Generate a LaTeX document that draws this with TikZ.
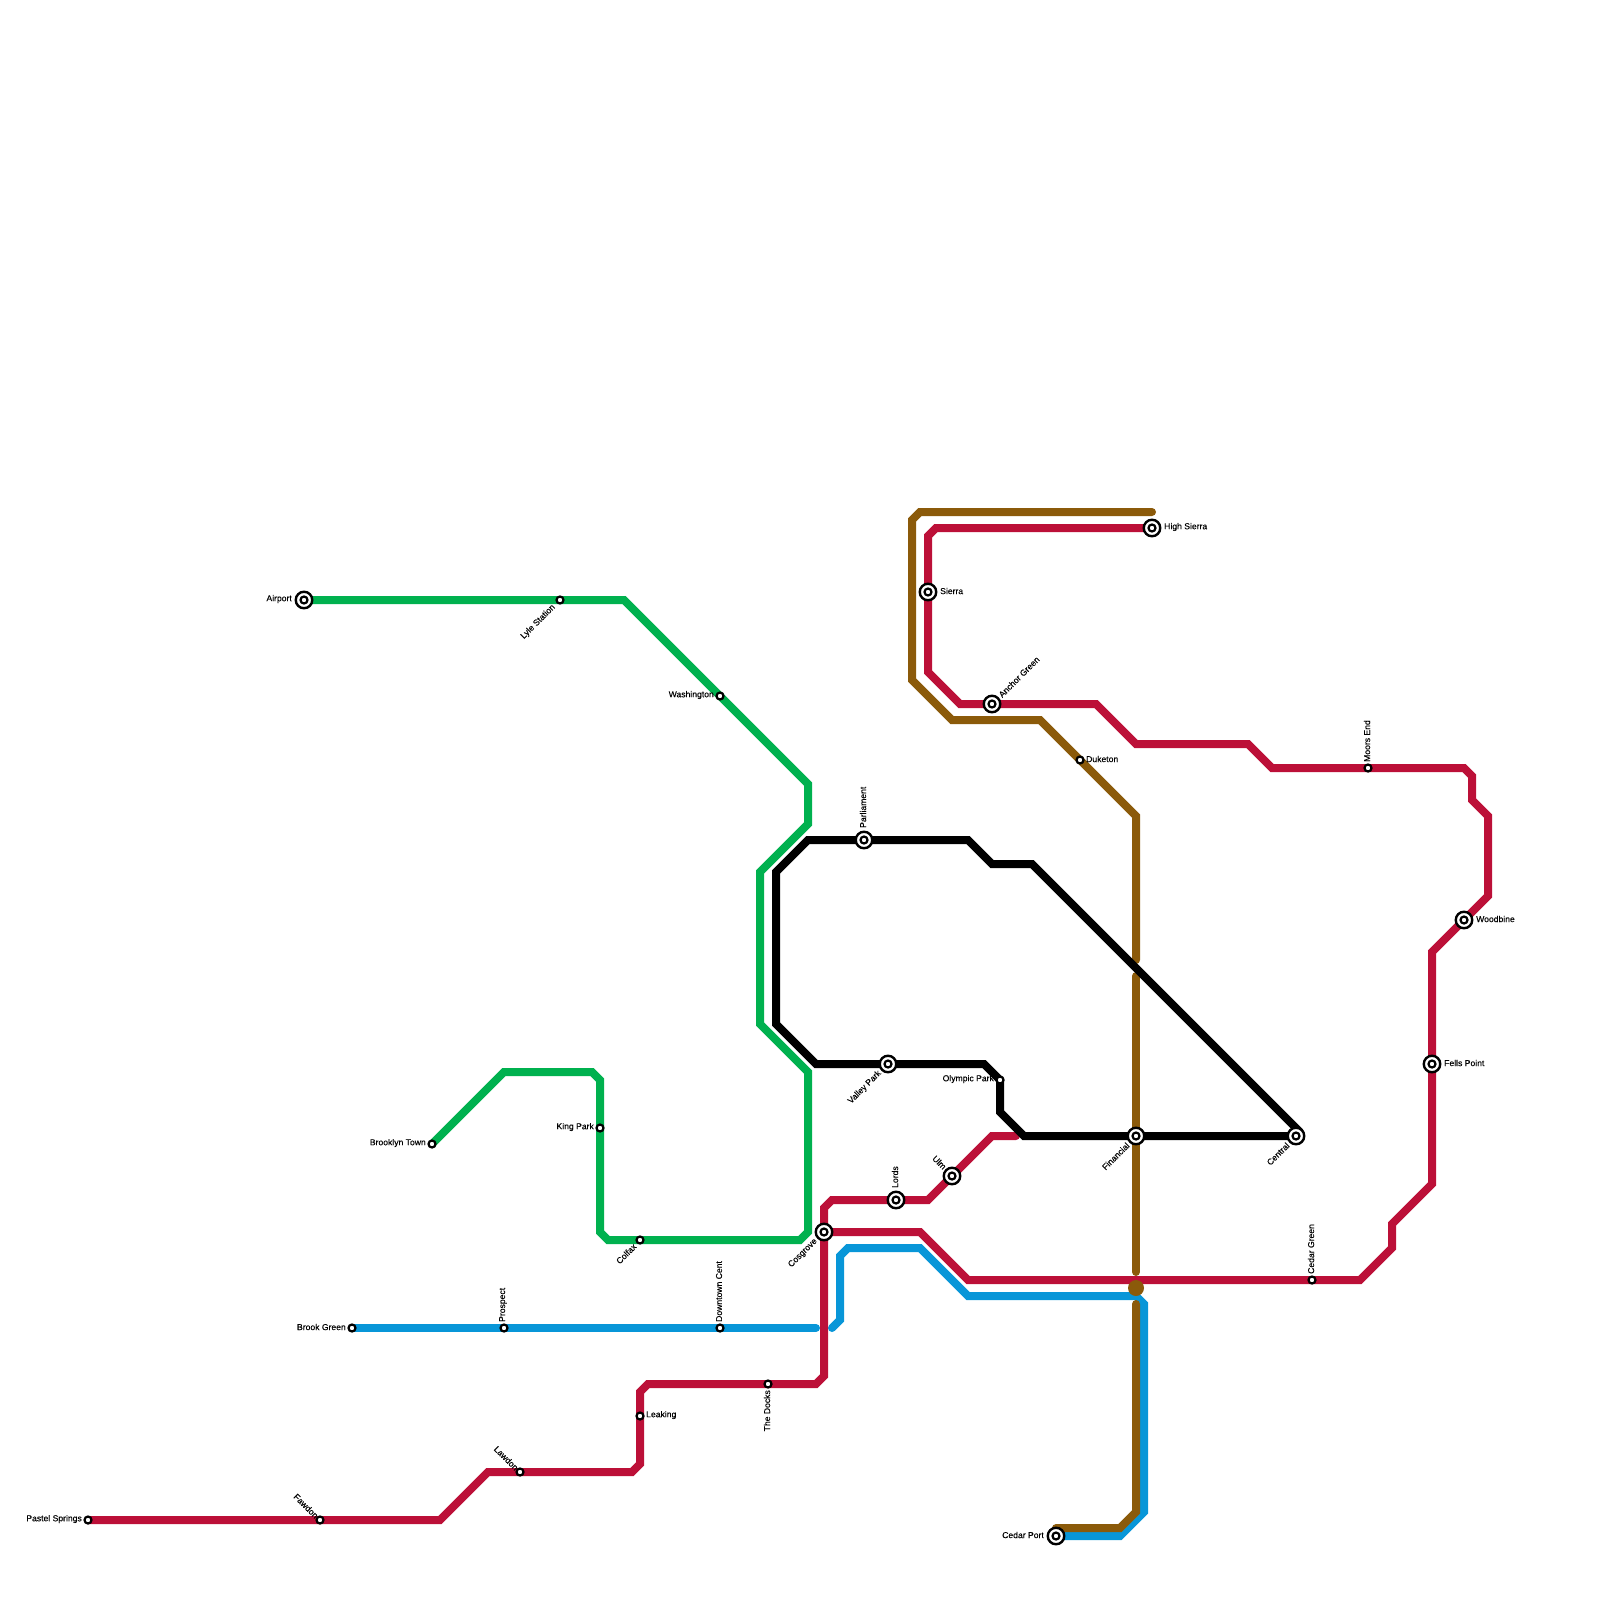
\documentclass[tikz,border=0pt]{standalone}
\usepackage{fontspec}
\setmainfont{Liberation Sans}[FakeBold=0.15]
\usetikzlibrary{backgrounds}
\definecolor{MetroRed}{RGB}{188,16,56}
\definecolor{MetroGreen}{RGB}{0,177,79}
\definecolor{MetroBlue}{RGB}{8,150,216}
\definecolor{MetroBrown}{RGB}{139,90,10}
\tikzset{
  metroline/.style={line width=8pt,line cap=round,miter limit=4},
  redline/.style={metroline,draw=MetroRed},
  greenline/.style={metroline,draw=MetroGreen},
  blueline/.style={metroline,draw=MetroBlue},
  brownline/.style={metroline,draw=MetroBrown},
  blackline/.style={metroline,draw=black},
  stop/.style={circle,draw=black,line width=2.2pt,fill=white,minimum size=7pt,inner sep=0pt},
  hub/.style={circle,draw=black,line width=2.4pt,fill=white,minimum size=16.5pt,inner sep=0pt,
    path picture={\draw[black,line width=2.2pt,fill=white] (path picture bounding box.center) circle (3.5pt);}},
  tag/.style={font=\fontsize{8.6}{10}\selectfont,text=black,inner sep=0pt}
}
\begin{document}
\begin{tikzpicture}[x=1pt,y=-1pt]
  \useasboundingbox (0,0) rectangle (1600,1600);
  % stations
  \node[hub] (airport) at (304,600) {};
  \node[stop] (lyle) at (560,600) {};
  \node[stop] (washington) at (720,696) {};
  \node[stop] (brooklyn) at (432,1144) {};
  \node[stop] (kingpark) at (600,1128) {};
  \node[stop] (colfax) at (640,1240) {};
  \node[hub] (parliament) at (864,840) {};
  \node[hub] (valleypark) at (888,1064) {};
  \node[stop] (olympic) at (1000,1080) {};
  \node[hub] (financial) at (1136,1136) {};
  \node[hub] (central) at (1296,1136) {};
  \node[hub] (highsierra) at (1152,528) {};
  \node[hub] (sierra) at (928,592) {};
  \node[hub] (anchor) at (992,704) {};
  \node[stop] (duketon) at (1080,760) {};
  \node[stop] (moors) at (1368,768) {};
  \node[hub] (woodbine) at (1464,920) {};
  \node[hub] (fells) at (1432,1064) {};
  \node[stop] (cedargreen) at (1312,1280) {};
  \node[hub] (cosgrove) at (824,1232) {};
  \node[hub] (lords) at (896,1200) {};
  \node[hub] (ulm) at (952,1176) {};
  \node[stop] (pastel) at (88,1520) {};
  \node[stop] (fawdon) at (320,1520) {};
  \node[stop] (lawdon) at (520,1472) {};
  \node[stop] (leaking) at (640,1416) {};
  \node[stop] (docks) at (768,1384) {};
  \node[stop] (brookgreen) at (352,1328) {};
  \node[stop] (prospect) at (504,1328) {};
  \node[stop] (downtown) at (720,1328) {};
  \node[hub] (cedarport) at (1056,1536) {};
  % free ends and the brown junction
  \coordinate (brownstart) at (1152,512);
  \coordinate (browngapa) at (1136,960);
  \coordinate (browngapb) at (1136,976);
  \coordinate (browngapc) at (1136,1272);
  \coordinate (browngapd) at (1136,1304);
  \coordinate (brownend) at (1056,1528);
  \coordinate (bluegapa) at (816,1328);
  \coordinate (bluegapb) at (832,1328);
  \coordinate (redend) at (1016,1136);
  \coordinate (blackend) at (1300,1132);
  \node[circle,fill=MetroBrown,minimum size=16pt,inner sep=0pt] (brownjoin) at (1136,1288) {};
  % lines
  \begin{scope}[on background layer]
    \draw[blueline] (brookgreen.center) -- (prospect.center) -- (downtown.center) -- (bluegapa);
    \draw[blueline] (bluegapb) -- (840,1320) -- (840,1256) -- (848,1248) -- (920,1248) -- (968,1296) -- (1136,1296) -- (1144,1304) -- (1144,1512) -- (1120,1536) -- (cedarport.center);
    \draw[greenline] (airport.center) -- (lyle.center) -- (624,600) -- (washington.center) -- (808,784) -- (808,824) -- (760,872) -- (760,1024) -- (808,1072) -- (808,1232) -- (800,1240) -- (colfax.center) -- (608,1240) -- (600,1232) -- (kingpark.center) -- (600,1080) -- (592,1072) -- (504,1072) -- (brooklyn.center);
    \draw[redline] (pastel.center) -- (fawdon.center) -- (440,1520) -- (488,1472) -- (lawdon.center) -- (632,1472) -- (640,1464) -- (leaking.center) -- (640,1392) -- (648,1384) -- (docks.center) -- (816,1384) -- (824,1376) -- (cosgrove.center) -- (824,1208) -- (832,1200) -- (lords.center) -- (928,1200) -- (ulm.center) -- (992,1136) -- (redend);
    \draw[redline] (highsierra.center) -- (936,528) -- (928,536) -- (sierra.center) -- (928,672) -- (960,704) -- (anchor.center) -- (1096,704) -- (1136,744) -- (1248,744) -- (1272,768) -- (moors.center) -- (1464,768) -- (1472,776) -- (1472,800) -- (1488,816) -- (1488,896) -- (woodbine.center) -- (1432,952) -- (fells.center) -- (1432,1184) -- (1392,1224) -- (1392,1248) -- (1360,1280) -- (cedargreen.center) -- (968,1280) -- (920,1232) -- (cosgrove.center);
    \draw[brownline] (brownstart) -- (920,512) -- (912,520) -- (912,680) -- (952,720) -- (1040,720) -- (duketon.center) -- (1136,816) -- (browngapa);
    \draw[brownline] (browngapb) -- (financial.center) -- (browngapc);
    \draw[brownline] (browngapd) -- (1136,1512) -- (1120,1528) -- (brownend);
    \draw[blackline] (central.center) -- (financial.center) -- (1024,1136) -- (1000,1112) -- (olympic.center) -- (984,1064) -- (valleypark.center) -- (816,1064) -- (776,1024) -- (776,872) -- (808,840) -- (parliament.center) -- (968,840) -- (992,864) -- (1032,864) -- (blackend);
  \end{scope}
  % labels
  \node[tag,anchor=east] (airporttag) at (292,599) {Airport};
  \node[tag,anchor=east,rotate=45] (lyletag) at (554,606) {Lyle Station};
  \node[tag,anchor=east] (washingtontag) at (714,695) {Washington};
  \node[tag,anchor=east] (brooklyntag) at (426,1143) {Brooklyn Town};
  \node[tag,anchor=east] (kingparktag) at (594,1127) {King Park};
  \node[tag,anchor=east,rotate=45] (colfaxtag) at (635,1245) {Colfax};
  \node[tag,anchor=west,rotate=90] (parliamenttag) at (863,828) {Parliament};
  \node[tag,anchor=east,rotate=45] (valleyparktag) at (880,1072) {Valley Park};
  \node[tag,anchor=east] (olympictag) at (994,1079) {Olympic Park};
  \node[tag,anchor=east,rotate=45] (financialtag) at (1128,1144) {Financial};
  \node[tag,anchor=east,rotate=45] (centraltag) at (1288,1144) {Central};
  \node[tag,anchor=west] (highsierratag) at (1164,527) {High Sierra};
  \node[tag,anchor=west] (sierratag) at (940,591) {Sierra};
  \node[tag,anchor=west,rotate=45] (anchortag) at (1000,696) {Anchor Green};
  \node[tag,anchor=west] (duketontag) at (1086,759) {Duketon};
  \node[tag,anchor=west,rotate=90] (moorstag) at (1367,762) {Moors End};
  \node[tag,anchor=west] (woodbinetag) at (1476,919) {Woodbine};
  \node[tag,anchor=west] (fellstag) at (1444,1063) {Fells Point};
  \node[tag,anchor=west,rotate=90] (cedargreentag) at (1311,1274) {Cedar Green};
  \node[tag,anchor=east,rotate=45] (cosgrovetag) at (816,1240) {Cosgrove};
  \node[tag,anchor=west,rotate=90] (lordstag) at (895,1188) {Lords};
  \node[tag,anchor=east,rotate=-45] (ulmtag) at (945,1168) {Ulm};
  \node[tag,anchor=east] (pasteltag) at (82,1519) {Pastel Springs};
  \node[tag,anchor=east,rotate=-45] (fawdontag) at (317,1517) {Fawdon};
  \node[tag,anchor=east,rotate=-45] (lawdontag) at (517,1469) {Lawdon};
  \node[tag,anchor=west] (leakingtag) at (646,1415) {Leaking};
  \node[tag,anchor=east,rotate=90] (dockstag) at (767,1390) {The Docks};
  \node[tag,anchor=east] (brookgreentag) at (346,1327) {Brook Green};
  \node[tag,anchor=west,rotate=90] (prospecttag) at (503,1322) {Prospect};
  \node[tag,anchor=west,rotate=90] (downtowntag) at (719,1322) {Downtown Cent};
  \node[tag,anchor=east] (cedarporttag) at (1044,1535) {Cedar Port};
\end{tikzpicture}
\end{document}
